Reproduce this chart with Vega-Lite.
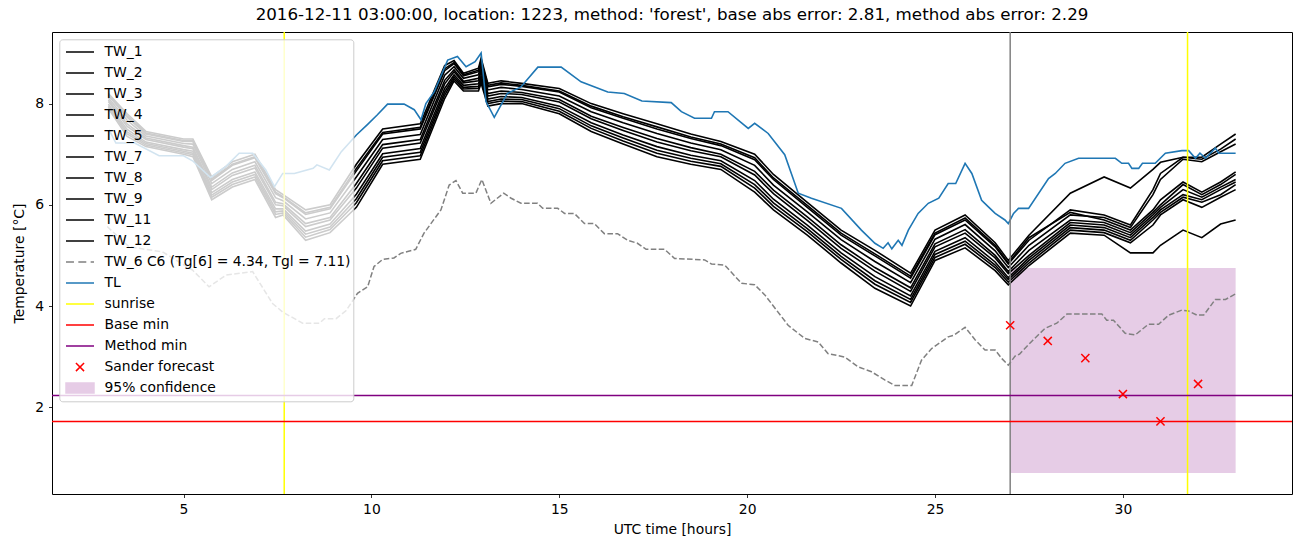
{
"$schema":"https://vega.github.io/schema/vega-lite/v6.json",
"width":1240,"height":462,
"autosize":{"type":"none"},
"padding":{"left":52,"top":32,"right":10,"bottom":53},
"background":"white",
"config":{
 "font":"DejaVu Sans",
 "view":{"stroke":"black","strokeWidth":1},
 "axis":{"domain":false,"grid":false,"tickColor":"black","tickSize":3.5,"tickWidth":0.8,"labelColor":"black","labelFontSize":13.9,"labelFont":"DejaVu Sans","titleFont":"DejaVu Sans","titleFontSize":13.9,"titleFontWeight":"normal","titleColor":"black","labelPadding":4.9}
},
"title":{"text":"2016-12-11 03:00:00, location: 1223, method: 'forest', base abs error: 2.81, method abs error: 2.29","fontSize":16.7,"fontWeight":"normal","color":"black","offset":8,"font":"DejaVu Sans"},
"datasets":{
"tw":[
{"s":"TW_1","t":3,"v":8.2},{"s":"TW_1","t":3.5,"v":7.8},{"s":"TW_1","t":4,"v":7.45},{"s":"TW_1","t":5,"v":7.3},{"s":"TW_1","t":5.25,"v":7.3},{"s":"TW_1","t":5.75,"v":6.55},{"s":"TW_1","t":6.3,"v":6.85},{"s":"TW_1","t":6.9,"v":7.0},{"s":"TW_1","t":7.45,"v":6.3},{"s":"TW_1","t":7.65,"v":6.2},{"s":"TW_1","t":8.25,"v":5.9},{"s":"TW_1","t":8.9,"v":6.0},{"s":"TW_1","t":9.6,"v":6.8},{"s":"TW_1","t":10.3,"v":7.5},{"s":"TW_1","t":11.3,"v":7.6},{"s":"TW_1","t":11.95,"v":8.75},{"s":"TW_1","t":12.2,"v":8.85},{"s":"TW_1","t":12.45,"v":8.6},{"s":"TW_1","t":12.85,"v":8.7},{"s":"TW_1","t":12.92,"v":8.9},{"s":"TW_1","t":13.1,"v":8.4},{"s":"TW_1","t":13.45,"v":8.45},{"s":"TW_1","t":14,"v":8.4},{"s":"TW_1","t":15,"v":8.3},{"s":"TW_1","t":15.85,"v":8.0},{"s":"TW_1","t":16.7,"v":7.8},{"s":"TW_1","t":17.6,"v":7.6},{"s":"TW_1","t":18.5,"v":7.4},{"s":"TW_1","t":19.3,"v":7.25},{"s":"TW_1","t":20.2,"v":7.0},{"s":"TW_1","t":20.7,"v":6.6},{"s":"TW_1","t":21.6,"v":6.05},{"s":"TW_1","t":22.5,"v":5.5},{"s":"TW_1","t":23.4,"v":5.1},{"s":"TW_1","t":24.35,"v":4.65},{"s":"TW_1","t":25,"v":5.5},{"s":"TW_1","t":25.8,"v":5.8},{"s":"TW_1","t":26.6,"v":5.25},{"s":"TW_1","t":26.95,"v":4.9},{"s":"TW_1","t":27.5,"v":5.4},{"s":"TW_1","t":28.6,"v":6.23},{"s":"TW_1","t":29.5,"v":6.55},{"s":"TW_1","t":30.2,"v":6.33},{"s":"TW_1","t":30.8,"v":6.7},{"s":"TW_1","t":31,"v":6.84},{"s":"TW_1","t":31.6,"v":6.94},{"s":"TW_1","t":32.1,"v":6.94},{"s":"TW_1","t":32.6,"v":7.2},{"s":"TW_1","t":33,"v":7.4},
{"s":"TW_4","t":3,"v":8.17},{"s":"TW_4","t":3.5,"v":7.76},{"s":"TW_4","t":4,"v":7.42},{"s":"TW_4","t":5,"v":7.27},{"s":"TW_4","t":5.25,"v":7.27},{"s":"TW_4","t":5.75,"v":6.51},{"s":"TW_4","t":6.3,"v":6.8},{"s":"TW_4","t":6.9,"v":6.95},{"s":"TW_4","t":7.45,"v":6.25},{"s":"TW_4","t":7.65,"v":6.16},{"s":"TW_4","t":8.25,"v":5.84},{"s":"TW_4","t":8.9,"v":5.95},{"s":"TW_4","t":9.6,"v":6.72},{"s":"TW_4","t":10.3,"v":7.43},{"s":"TW_4","t":11.3,"v":7.53},{"s":"TW_4","t":11.95,"v":8.69},{"s":"TW_4","t":12.2,"v":8.81},{"s":"TW_4","t":12.45,"v":8.57},{"s":"TW_4","t":12.85,"v":8.66},{"s":"TW_4","t":12.92,"v":8.85},{"s":"TW_4","t":13.1,"v":8.36},{"s":"TW_4","t":13.45,"v":8.41},{"s":"TW_4","t":14,"v":8.36},{"s":"TW_4","t":15,"v":8.25},{"s":"TW_4","t":15.85,"v":7.95},{"s":"TW_4","t":16.7,"v":7.74},{"s":"TW_4","t":17.6,"v":7.54},{"s":"TW_4","t":18.5,"v":7.34},{"s":"TW_4","t":19.3,"v":7.2},{"s":"TW_4","t":20.2,"v":6.93},{"s":"TW_4","t":20.7,"v":6.53},{"s":"TW_4","t":21.6,"v":5.99},{"s":"TW_4","t":22.5,"v":5.44},{"s":"TW_4","t":23.4,"v":5.03},{"s":"TW_4","t":24.35,"v":4.59},{"s":"TW_4","t":25,"v":5.44},{"s":"TW_4","t":25.8,"v":5.74},{"s":"TW_4","t":26.6,"v":5.2},{"s":"TW_4","t":26.95,"v":4.85},{"s":"TW_4","t":27.5,"v":5.35},{"s":"TW_4","t":28.6,"v":5.85},{"s":"TW_4","t":29.5,"v":5.7},{"s":"TW_4","t":30.2,"v":5.5},{"s":"TW_4","t":30.8,"v":5.9},{"s":"TW_4","t":31,"v":6.1},{"s":"TW_4","t":31.6,"v":6.45},{"s":"TW_4","t":32.1,"v":6.25},{"s":"TW_4","t":32.6,"v":6.45},{"s":"TW_4","t":33,"v":6.65},
{"s":"TW_2","t":3,"v":8.16},{"s":"TW_2","t":3.5,"v":7.73},{"s":"TW_2","t":4,"v":7.4},{"s":"TW_2","t":5,"v":7.25},{"s":"TW_2","t":5.25,"v":7.25},{"s":"TW_2","t":5.75,"v":6.48},{"s":"TW_2","t":6.3,"v":6.78},{"s":"TW_2","t":6.9,"v":6.93},{"s":"TW_2","t":7.45,"v":6.22},{"s":"TW_2","t":7.65,"v":6.14},{"s":"TW_2","t":8.25,"v":5.81},{"s":"TW_2","t":8.9,"v":5.92},{"s":"TW_2","t":9.6,"v":6.67},{"s":"TW_2","t":10.3,"v":7.4},{"s":"TW_2","t":11.3,"v":7.5},{"s":"TW_2","t":11.95,"v":8.65},{"s":"TW_2","t":12.2,"v":8.79},{"s":"TW_2","t":12.45,"v":8.55},{"s":"TW_2","t":12.85,"v":8.63},{"s":"TW_2","t":12.92,"v":8.83},{"s":"TW_2","t":13.1,"v":8.33},{"s":"TW_2","t":13.45,"v":8.38},{"s":"TW_2","t":14,"v":8.34},{"s":"TW_2","t":15,"v":8.23},{"s":"TW_2","t":15.85,"v":7.92},{"s":"TW_2","t":16.7,"v":7.71},{"s":"TW_2","t":17.6,"v":7.5},{"s":"TW_2","t":18.5,"v":7.31},{"s":"TW_2","t":19.3,"v":7.17},{"s":"TW_2","t":20.2,"v":6.89},{"s":"TW_2","t":20.7,"v":6.5},{"s":"TW_2","t":21.6,"v":5.95},{"s":"TW_2","t":22.5,"v":5.4},{"s":"TW_2","t":23.4,"v":4.99},{"s":"TW_2","t":24.35,"v":4.55},{"s":"TW_2","t":25,"v":5.41},{"s":"TW_2","t":25.8,"v":5.7},{"s":"TW_2","t":26.6,"v":5.17},{"s":"TW_2","t":26.95,"v":4.83},{"s":"TW_2","t":27.5,"v":5.3},{"s":"TW_2","t":28.6,"v":5.9},{"s":"TW_2","t":29.5,"v":5.8},{"s":"TW_2","t":30.2,"v":5.6},{"s":"TW_2","t":30.8,"v":6.3},{"s":"TW_2","t":31,"v":6.62},{"s":"TW_2","t":31.6,"v":6.94},{"s":"TW_2","t":32.1,"v":6.9},{"s":"TW_2","t":32.6,"v":7.1},{"s":"TW_2","t":33,"v":7.3},
{"s":"TW_3","t":3,"v":8.11},{"s":"TW_3","t":3.5,"v":7.67},{"s":"TW_3","t":4,"v":7.36},{"s":"TW_3","t":5,"v":7.21},{"s":"TW_3","t":5.25,"v":7.2},{"s":"TW_3","t":5.75,"v":6.42},{"s":"TW_3","t":6.3,"v":6.7},{"s":"TW_3","t":6.9,"v":6.85},{"s":"TW_3","t":7.45,"v":6.14},{"s":"TW_3","t":7.65,"v":6.08},{"s":"TW_3","t":8.25,"v":5.72},{"s":"TW_3","t":8.9,"v":5.84},{"s":"TW_3","t":9.6,"v":6.55},{"s":"TW_3","t":10.3,"v":7.29},{"s":"TW_3","t":11.3,"v":7.39},{"s":"TW_3","t":11.95,"v":8.56},{"s":"TW_3","t":12.2,"v":8.73},{"s":"TW_3","t":12.45,"v":8.5},{"s":"TW_3","t":12.85,"v":8.57},{"s":"TW_3","t":12.92,"v":8.75},{"s":"TW_3","t":13.1,"v":8.27},{"s":"TW_3","t":13.45,"v":8.32},{"s":"TW_3","t":14,"v":8.28},{"s":"TW_3","t":15,"v":8.15},{"s":"TW_3","t":15.85,"v":7.84},{"s":"TW_3","t":16.7,"v":7.62},{"s":"TW_3","t":17.6,"v":7.41},{"s":"TW_3","t":18.5,"v":7.22},{"s":"TW_3","t":19.3,"v":7.09},{"s":"TW_3","t":20.2,"v":6.78},{"s":"TW_3","t":20.7,"v":6.39},{"s":"TW_3","t":21.6,"v":5.86},{"s":"TW_3","t":22.5,"v":5.31},{"s":"TW_3","t":23.4,"v":4.88},{"s":"TW_3","t":24.35,"v":4.46},{"s":"TW_3","t":25,"v":5.32},{"s":"TW_3","t":25.8,"v":5.61},{"s":"TW_3","t":26.6,"v":5.09},{"s":"TW_3","t":26.95,"v":4.76},{"s":"TW_3","t":27.5,"v":5.2},{"s":"TW_3","t":28.6,"v":5.8},{"s":"TW_3","t":29.5,"v":5.75},{"s":"TW_3","t":30.2,"v":5.55},{"s":"TW_3","t":30.8,"v":6.2},{"s":"TW_3","t":31,"v":6.5},{"s":"TW_3","t":31.6,"v":6.9},{"s":"TW_3","t":32.1,"v":6.85},{"s":"TW_3","t":32.6,"v":7.05},{"s":"TW_3","t":33,"v":7.2},
{"s":"TW_5","t":3,"v":8.07},{"s":"TW_5","t":3.5,"v":7.6},{"s":"TW_5","t":4,"v":7.32},{"s":"TW_5","t":5,"v":7.17},{"s":"TW_5","t":5.25,"v":7.14},{"s":"TW_5","t":5.75,"v":6.35},{"s":"TW_5","t":6.3,"v":6.63},{"s":"TW_5","t":6.9,"v":6.78},{"s":"TW_5","t":7.45,"v":6.05},{"s":"TW_5","t":7.65,"v":6.02},{"s":"TW_5","t":8.25,"v":5.63},{"s":"TW_5","t":8.9,"v":5.75},{"s":"TW_5","t":9.6,"v":6.42},{"s":"TW_5","t":10.3,"v":7.19},{"s":"TW_5","t":11.3,"v":7.29},{"s":"TW_5","t":11.95,"v":8.46},{"s":"TW_5","t":12.2,"v":8.67},{"s":"TW_5","t":12.45,"v":8.44},{"s":"TW_5","t":12.85,"v":8.5},{"s":"TW_5","t":12.92,"v":8.68},{"s":"TW_5","t":13.1,"v":8.2},{"s":"TW_5","t":13.45,"v":8.25},{"s":"TW_5","t":14,"v":8.22},{"s":"TW_5","t":15,"v":8.08},{"s":"TW_5","t":15.85,"v":7.75},{"s":"TW_5","t":16.7,"v":7.53},{"s":"TW_5","t":17.6,"v":7.31},{"s":"TW_5","t":18.5,"v":7.13},{"s":"TW_5","t":19.3,"v":7.0},{"s":"TW_5","t":20.2,"v":6.66},{"s":"TW_5","t":20.7,"v":6.29},{"s":"TW_5","t":21.6,"v":5.76},{"s":"TW_5","t":22.5,"v":5.21},{"s":"TW_5","t":23.4,"v":4.76},{"s":"TW_5","t":24.35,"v":4.36},{"s":"TW_5","t":25,"v":5.23},{"s":"TW_5","t":25.8,"v":5.51},{"s":"TW_5","t":26.6,"v":5.0},{"s":"TW_5","t":26.95,"v":4.68},{"s":"TW_5","t":27.5,"v":5.1},{"s":"TW_5","t":28.6,"v":5.7},{"s":"TW_5","t":29.5,"v":5.65},{"s":"TW_5","t":30.2,"v":5.45},{"s":"TW_5","t":30.8,"v":5.85},{"s":"TW_5","t":31,"v":6.0},{"s":"TW_5","t":31.6,"v":6.4},{"s":"TW_5","t":32.1,"v":6.2},{"s":"TW_5","t":32.6,"v":6.4},{"s":"TW_5","t":33,"v":6.6},
{"s":"TW_7","t":3,"v":8.04},{"s":"TW_7","t":3.5,"v":7.55},{"s":"TW_7","t":4,"v":7.29},{"s":"TW_7","t":5,"v":7.14},{"s":"TW_7","t":5.25,"v":7.11},{"s":"TW_7","t":5.75,"v":6.3},{"s":"TW_7","t":6.3,"v":6.58},{"s":"TW_7","t":6.9,"v":6.73},{"s":"TW_7","t":7.45,"v":6.0},{"s":"TW_7","t":7.65,"v":5.98},{"s":"TW_7","t":8.25,"v":5.57},{"s":"TW_7","t":8.9,"v":5.7},{"s":"TW_7","t":9.6,"v":6.33},{"s":"TW_7","t":10.3,"v":7.12},{"s":"TW_7","t":11.3,"v":7.22},{"s":"TW_7","t":11.95,"v":8.39},{"s":"TW_7","t":12.2,"v":8.63},{"s":"TW_7","t":12.45,"v":8.41},{"s":"TW_7","t":12.85,"v":8.45},{"s":"TW_7","t":12.92,"v":8.63},{"s":"TW_7","t":13.1,"v":8.15},{"s":"TW_7","t":13.45,"v":8.2},{"s":"TW_7","t":14,"v":8.18},{"s":"TW_7","t":15,"v":8.03},{"s":"TW_7","t":15.85,"v":7.7},{"s":"TW_7","t":16.7,"v":7.47},{"s":"TW_7","t":17.6,"v":7.24},{"s":"TW_7","t":18.5,"v":7.07},{"s":"TW_7","t":19.3,"v":6.95},{"s":"TW_7","t":20.2,"v":6.59},{"s":"TW_7","t":20.7,"v":6.22},{"s":"TW_7","t":21.6,"v":5.69},{"s":"TW_7","t":22.5,"v":5.14},{"s":"TW_7","t":23.4,"v":4.69},{"s":"TW_7","t":24.35,"v":4.29},{"s":"TW_7","t":25,"v":5.17},{"s":"TW_7","t":25.8,"v":5.44},{"s":"TW_7","t":26.6,"v":4.95},{"s":"TW_7","t":26.95,"v":4.64},{"s":"TW_7","t":27.5,"v":5.0},{"s":"TW_7","t":28.6,"v":5.65},{"s":"TW_7","t":29.5,"v":5.6},{"s":"TW_7","t":30.2,"v":5.4},{"s":"TW_7","t":30.8,"v":5.8},{"s":"TW_7","t":31,"v":5.95},{"s":"TW_7","t":31.6,"v":6.3},{"s":"TW_7","t":32.1,"v":6.15},{"s":"TW_7","t":32.6,"v":6.35},{"s":"TW_7","t":33,"v":6.5},
{"s":"TW_8","t":3,"v":7.99},{"s":"TW_8","t":3.5,"v":7.49},{"s":"TW_8","t":4,"v":7.24},{"s":"TW_8","t":5,"v":7.09},{"s":"TW_8","t":5.25,"v":7.06},{"s":"TW_8","t":5.75,"v":6.24},{"s":"TW_8","t":6.3,"v":6.5},{"s":"TW_8","t":6.9,"v":6.65},{"s":"TW_8","t":7.45,"v":5.92},{"s":"TW_8","t":7.65,"v":5.92},{"s":"TW_8","t":8.25,"v":5.48},{"s":"TW_8","t":8.9,"v":5.62},{"s":"TW_8","t":9.6,"v":6.21},{"s":"TW_8","t":10.3,"v":7.01},{"s":"TW_8","t":11.3,"v":7.11},{"s":"TW_8","t":11.95,"v":8.3},{"s":"TW_8","t":12.2,"v":8.57},{"s":"TW_8","t":12.45,"v":8.36},{"s":"TW_8","t":12.85,"v":8.39},{"s":"TW_8","t":12.92,"v":8.55},{"s":"TW_8","t":13.1,"v":8.09},{"s":"TW_8","t":13.45,"v":8.14},{"s":"TW_8","t":14,"v":8.12},{"s":"TW_8","t":15,"v":7.95},{"s":"TW_8","t":15.85,"v":7.62},{"s":"TW_8","t":16.7,"v":7.38},{"s":"TW_8","t":17.6,"v":7.15},{"s":"TW_8","t":18.5,"v":6.98},{"s":"TW_8","t":19.3,"v":6.87},{"s":"TW_8","t":20.2,"v":6.48},{"s":"TW_8","t":20.7,"v":6.11},{"s":"TW_8","t":21.6,"v":5.6},{"s":"TW_8","t":22.5,"v":5.05},{"s":"TW_8","t":23.4,"v":4.58},{"s":"TW_8","t":24.35,"v":4.2},{"s":"TW_8","t":25,"v":5.08},{"s":"TW_8","t":25.8,"v":5.35},{"s":"TW_8","t":26.6,"v":4.87},{"s":"TW_8","t":26.95,"v":4.56},{"s":"TW_8","t":27.5,"v":4.95},{"s":"TW_8","t":28.6,"v":5.6},{"s":"TW_8","t":29.5,"v":5.55},{"s":"TW_8","t":30.2,"v":5.35},{"s":"TW_8","t":30.8,"v":5.75},{"s":"TW_8","t":31,"v":5.9},{"s":"TW_8","t":31.6,"v":6.2},{"s":"TW_8","t":32.1,"v":6.1},{"s":"TW_8","t":32.6,"v":6.3},{"s":"TW_8","t":33,"v":6.45},
{"s":"TW_9","t":3,"v":7.96},{"s":"TW_9","t":3.5,"v":7.44},{"s":"TW_9","t":4,"v":7.21},{"s":"TW_9","t":5,"v":7.06},{"s":"TW_9","t":5.25,"v":7.02},{"s":"TW_9","t":5.75,"v":6.19},{"s":"TW_9","t":6.3,"v":6.45},{"s":"TW_9","t":6.9,"v":6.6},{"s":"TW_9","t":7.45,"v":5.86},{"s":"TW_9","t":7.65,"v":5.88},{"s":"TW_9","t":8.25,"v":5.42},{"s":"TW_9","t":8.9,"v":5.56},{"s":"TW_9","t":9.6,"v":6.12},{"s":"TW_9","t":10.3,"v":6.94},{"s":"TW_9","t":11.3,"v":7.04},{"s":"TW_9","t":11.95,"v":8.23},{"s":"TW_9","t":12.2,"v":8.53},{"s":"TW_9","t":12.45,"v":8.32},{"s":"TW_9","t":12.85,"v":8.34},{"s":"TW_9","t":12.92,"v":8.5},{"s":"TW_9","t":13.1,"v":8.04},{"s":"TW_9","t":13.45,"v":8.09},{"s":"TW_9","t":14,"v":8.08},{"s":"TW_9","t":15,"v":7.9},{"s":"TW_9","t":15.85,"v":7.56},{"s":"TW_9","t":16.7,"v":7.32},{"s":"TW_9","t":17.6,"v":7.08},{"s":"TW_9","t":18.5,"v":6.92},{"s":"TW_9","t":19.3,"v":6.81},{"s":"TW_9","t":20.2,"v":6.4},{"s":"TW_9","t":20.7,"v":6.04},{"s":"TW_9","t":21.6,"v":5.53},{"s":"TW_9","t":22.5,"v":4.98},{"s":"TW_9","t":23.4,"v":4.5},{"s":"TW_9","t":24.35,"v":4.13},{"s":"TW_9","t":25,"v":5.02},{"s":"TW_9","t":25.8,"v":5.28},{"s":"TW_9","t":26.6,"v":4.81},{"s":"TW_9","t":26.95,"v":4.52},{"s":"TW_9","t":27.5,"v":4.9},{"s":"TW_9","t":28.6,"v":5.55},{"s":"TW_9","t":29.5,"v":5.5},{"s":"TW_9","t":30.2,"v":5.3},{"s":"TW_9","t":30.8,"v":5.7},{"s":"TW_9","t":31,"v":5.85},{"s":"TW_9","t":31.6,"v":6.15},{"s":"TW_9","t":32.1,"v":6.05},{"s":"TW_9","t":32.6,"v":6.2},{"s":"TW_9","t":33,"v":6.4},
{"s":"TW_11","t":3,"v":7.93},{"s":"TW_11","t":3.5,"v":7.4},{"s":"TW_11","t":4,"v":7.18},{"s":"TW_11","t":5,"v":7.03},{"s":"TW_11","t":5.25,"v":6.99},{"s":"TW_11","t":5.75,"v":6.15},{"s":"TW_11","t":6.3,"v":6.4},{"s":"TW_11","t":6.9,"v":6.55},{"s":"TW_11","t":7.45,"v":5.81},{"s":"TW_11","t":7.65,"v":5.84},{"s":"TW_11","t":8.25,"v":5.36},{"s":"TW_11","t":8.9,"v":5.51},{"s":"TW_11","t":9.6,"v":6.04},{"s":"TW_11","t":10.3,"v":6.87},{"s":"TW_11","t":11.3,"v":6.97},{"s":"TW_11","t":11.95,"v":8.17},{"s":"TW_11","t":12.2,"v":8.49},{"s":"TW_11","t":12.45,"v":8.29},{"s":"TW_11","t":12.85,"v":8.3},{"s":"TW_11","t":12.92,"v":8.45},{"s":"TW_11","t":13.1,"v":8.0},{"s":"TW_11","t":13.45,"v":8.05},{"s":"TW_11","t":14,"v":8.04},{"s":"TW_11","t":15,"v":7.85},{"s":"TW_11","t":15.85,"v":7.51},{"s":"TW_11","t":16.7,"v":7.26},{"s":"TW_11","t":17.6,"v":7.02},{"s":"TW_11","t":18.5,"v":6.86},{"s":"TW_11","t":19.3,"v":6.76},{"s":"TW_11","t":20.2,"v":6.33},{"s":"TW_11","t":20.7,"v":5.97},{"s":"TW_11","t":21.6,"v":5.47},{"s":"TW_11","t":22.5,"v":4.92},{"s":"TW_11","t":23.4,"v":4.43},{"s":"TW_11","t":24.35,"v":4.07},{"s":"TW_11","t":25,"v":4.96},{"s":"TW_11","t":25.8,"v":5.22},{"s":"TW_11","t":26.6,"v":4.76},{"s":"TW_11","t":26.95,"v":4.47},{"s":"TW_11","t":27.5,"v":4.85},{"s":"TW_11","t":28.6,"v":5.5},{"s":"TW_11","t":29.5,"v":5.45},{"s":"TW_11","t":30.2,"v":5.25},{"s":"TW_11","t":30.8,"v":5.6},{"s":"TW_11","t":31,"v":5.8},{"s":"TW_11","t":31.6,"v":6.1},{"s":"TW_11","t":32.1,"v":5.95},{"s":"TW_11","t":32.6,"v":6.15},{"s":"TW_11","t":33,"v":6.3},
{"s":"TW_12","t":3,"v":7.9},{"s":"TW_12","t":3.5,"v":7.35},{"s":"TW_12","t":4,"v":7.15},{"s":"TW_12","t":5,"v":7.0},{"s":"TW_12","t":5.25,"v":6.95},{"s":"TW_12","t":5.75,"v":6.1},{"s":"TW_12","t":6.3,"v":6.35},{"s":"TW_12","t":6.9,"v":6.5},{"s":"TW_12","t":7.45,"v":5.75},{"s":"TW_12","t":7.65,"v":5.8},{"s":"TW_12","t":8.25,"v":5.3},{"s":"TW_12","t":8.9,"v":5.45},{"s":"TW_12","t":9.6,"v":5.95},{"s":"TW_12","t":10.3,"v":6.8},{"s":"TW_12","t":11.3,"v":6.9},{"s":"TW_12","t":11.95,"v":8.1},{"s":"TW_12","t":12.2,"v":8.45},{"s":"TW_12","t":12.45,"v":8.25},{"s":"TW_12","t":12.85,"v":8.25},{"s":"TW_12","t":12.92,"v":8.4},{"s":"TW_12","t":13.1,"v":7.95},{"s":"TW_12","t":13.45,"v":8.0},{"s":"TW_12","t":14,"v":8.0},{"s":"TW_12","t":15,"v":7.8},{"s":"TW_12","t":15.85,"v":7.45},{"s":"TW_12","t":16.7,"v":7.2},{"s":"TW_12","t":17.6,"v":6.95},{"s":"TW_12","t":18.5,"v":6.8},{"s":"TW_12","t":19.3,"v":6.7},{"s":"TW_12","t":20.2,"v":6.25},{"s":"TW_12","t":20.7,"v":5.9},{"s":"TW_12","t":21.6,"v":5.4},{"s":"TW_12","t":22.5,"v":4.85},{"s":"TW_12","t":23.4,"v":4.35},{"s":"TW_12","t":24.35,"v":4.0},{"s":"TW_12","t":25,"v":4.9},{"s":"TW_12","t":25.8,"v":5.15},{"s":"TW_12","t":26.6,"v":4.7},{"s":"TW_12","t":26.95,"v":4.42},{"s":"TW_12","t":27.5,"v":4.8},{"s":"TW_12","t":28.6,"v":5.44},{"s":"TW_12","t":29.5,"v":5.4},{"s":"TW_12","t":30.2,"v":5.05},{"s":"TW_12","t":30.8,"v":5.05},{"s":"TW_12","t":31,"v":5.2},{"s":"TW_12","t":31.6,"v":5.5},{"s":"TW_12","t":32.1,"v":5.35},{"s":"TW_12","t":32.6,"v":5.62},{"s":"TW_12","t":33,"v":5.7}
],
"tl":[
{"s":"TL","t":3.02,"v":7.48},{"s":"TL","t":3.2,"v":7.22},{"s":"TL","t":3.7,"v":7.22},{"s":"TL","t":4.35,"v":6.97},{"s":"TL","t":5.0,"v":6.97},{"s":"TL","t":5.24,"v":6.87},{"s":"TL","t":5.72,"v":6.54},{"s":"TL","t":6.13,"v":6.76},{"s":"TL","t":6.48,"v":7.02},{"s":"TL","t":6.84,"v":7.02},{"s":"TL","t":7.19,"v":6.69},{"s":"TL","t":7.42,"v":6.36},{"s":"TL","t":7.64,"v":6.62},{"s":"TL","t":7.95,"v":6.62},{"s":"TL","t":8.45,"v":6.72},{"s":"TL","t":8.55,"v":6.79},{"s":"TL","t":8.88,"v":6.69},{"s":"TL","t":9.2,"v":7.05},{"s":"TL","t":9.6,"v":7.38},{"s":"TL","t":9.9,"v":7.59},{"s":"TL","t":10.16,"v":7.78},{"s":"TL","t":10.43,"v":7.99},{"s":"TL","t":10.87,"v":7.99},{"s":"TL","t":11.14,"v":7.88},{"s":"TL","t":11.32,"v":7.68},{"s":"TL","t":11.45,"v":8.0},{"s":"TL","t":11.67,"v":8.23},{"s":"TL","t":12.03,"v":8.86},{"s":"TL","t":12.29,"v":8.93},{"s":"TL","t":12.52,"v":8.73},{"s":"TL","t":12.76,"v":8.83},{"s":"TL","t":12.92,"v":9.0},{"s":"TL","t":13.05,"v":8.04},{"s":"TL","t":13.27,"v":7.73},{"s":"TL","t":13.62,"v":8.2},{"s":"TL","t":13.98,"v":8.33},{"s":"TL","t":14.43,"v":8.72},{"s":"TL","t":15.05,"v":8.72},{"s":"TL","t":15.58,"v":8.43},{"s":"TL","t":16.29,"v":8.23},{"s":"TL","t":16.73,"v":8.2},{"s":"TL","t":17.2,"v":8.05},{"s":"TL","t":17.98,"v":8.02},{"s":"TL","t":18.25,"v":7.84},{"s":"TL","t":18.6,"v":7.71},{"s":"TL","t":19.05,"v":7.71},{"s":"TL","t":19.13,"v":7.84},{"s":"TL","t":19.49,"v":7.84},{"s":"TL","t":19.85,"v":7.62},{"s":"TL","t":20.03,"v":7.51},{"s":"TL","t":20.2,"v":7.61},{"s":"TL","t":20.56,"v":7.41},{"s":"TL","t":21.0,"v":6.99},{"s":"TL","t":21.36,"v":6.23},{"s":"TL","t":21.71,"v":6.13},{"s":"TL","t":22.51,"v":5.93},{"s":"TL","t":23.04,"v":5.5},{"s":"TL","t":23.4,"v":5.24},{"s":"TL","t":23.62,"v":5.14},{"s":"TL","t":23.75,"v":5.25},{"s":"TL","t":23.85,"v":5.13},{"s":"TL","t":24.02,"v":5.3},{"s":"TL","t":24.12,"v":5.2},{"s":"TL","t":24.29,"v":5.5},{"s":"TL","t":24.55,"v":5.83},{"s":"TL","t":24.82,"v":6.03},{"s":"TL","t":25.1,"v":6.13},{"s":"TL","t":25.35,"v":6.42},{"s":"TL","t":25.55,"v":6.42},{"s":"TL","t":25.8,"v":6.82},{"s":"TL","t":25.98,"v":6.62},{"s":"TL","t":26.24,"v":6.09},{"s":"TL","t":26.42,"v":5.96},{"s":"TL","t":26.6,"v":5.83},{"s":"TL","t":26.86,"v":5.7},{"s":"TL","t":26.95,"v":5.63},{"s":"TL","t":27.09,"v":5.83},{"s":"TL","t":27.22,"v":5.93},{"s":"TL","t":27.49,"v":5.93},{"s":"TL","t":28.02,"v":6.52},{"s":"TL","t":28.2,"v":6.62},{"s":"TL","t":28.46,"v":6.82},{"s":"TL","t":28.82,"v":6.92},{"s":"TL","t":29.8,"v":6.92},{"s":"TL","t":29.97,"v":6.82},{"s":"TL","t":30.15,"v":6.82},{"s":"TL","t":30.24,"v":6.72},{"s":"TL","t":30.42,"v":6.72},{"s":"TL","t":30.52,"v":6.82},{"s":"TL","t":30.86,"v":6.82},{"s":"TL","t":31.13,"v":7.02},{"s":"TL","t":31.57,"v":7.07},{"s":"TL","t":31.75,"v":7.07},{"s":"TL","t":31.93,"v":6.92},{"s":"TL","t":32.05,"v":7.02},{"s":"TL","t":32.2,"v":6.92},{"s":"TL","t":32.46,"v":7.12},{"s":"TL","t":32.55,"v":7.02},{"s":"TL","t":33.0,"v":7.02}
],
"c6":[
{"s":"TW_6","t":2.97,"v":5.57},{"s":"TW_6","t":3.55,"v":5.17},{"s":"TW_6","t":4.44,"v":5.07},{"s":"TW_6","t":5.24,"v":4.71},{"s":"TW_6","t":5.68,"v":4.38},{"s":"TW_6","t":6.13,"v":4.61},{"s":"TW_6","t":6.84,"v":4.68},{"s":"TW_6","t":7.37,"v":4.05},{"s":"TW_6","t":7.64,"v":3.88},{"s":"TW_6","t":8.17,"v":3.66},{"s":"TW_6","t":8.62,"v":3.66},{"s":"TW_6","t":8.75,"v":3.75},{"s":"TW_6","t":9.06,"v":3.75},{"s":"TW_6","t":9.33,"v":3.91},{"s":"TW_6","t":9.63,"v":4.25},{"s":"TW_6","t":9.9,"v":4.38},{"s":"TW_6","t":10.07,"v":4.78},{"s":"TW_6","t":10.3,"v":4.92},{"s":"TW_6","t":10.6,"v":4.95},{"s":"TW_6","t":10.78,"v":5.04},{"s":"TW_6","t":11.18,"v":5.12},{"s":"TW_6","t":11.4,"v":5.44},{"s":"TW_6","t":11.85,"v":5.9},{"s":"TW_6","t":12.07,"v":6.39},{"s":"TW_6","t":12.25,"v":6.48},{"s":"TW_6","t":12.43,"v":6.23},{"s":"TW_6","t":12.78,"v":6.23},{"s":"TW_6","t":12.94,"v":6.5},{"s":"TW_6","t":13.18,"v":6.03},{"s":"TW_6","t":13.52,"v":6.23},{"s":"TW_6","t":13.72,"v":6.13},{"s":"TW_6","t":13.98,"v":6.03},{"s":"TW_6","t":14.42,"v":6.03},{"s":"TW_6","t":14.56,"v":5.93},{"s":"TW_6","t":14.96,"v":5.93},{"s":"TW_6","t":15.14,"v":5.83},{"s":"TW_6","t":15.4,"v":5.83},{"s":"TW_6","t":15.67,"v":5.63},{"s":"TW_6","t":15.93,"v":5.63},{"s":"TW_6","t":16.2,"v":5.43},{"s":"TW_6","t":16.55,"v":5.43},{"s":"TW_6","t":16.82,"v":5.3},{"s":"TW_6","t":17.08,"v":5.24},{"s":"TW_6","t":17.31,"v":5.12},{"s":"TW_6","t":17.8,"v":5.12},{"s":"TW_6","t":18.07,"v":4.94},{"s":"TW_6","t":18.87,"v":4.91},{"s":"TW_6","t":19.05,"v":4.83},{"s":"TW_6","t":19.4,"v":4.81},{"s":"TW_6","t":19.85,"v":4.45},{"s":"TW_6","t":20.2,"v":4.42},{"s":"TW_6","t":20.47,"v":4.22},{"s":"TW_6","t":21.09,"v":3.62},{"s":"TW_6","t":21.53,"v":3.36},{"s":"TW_6","t":21.89,"v":3.29},{"s":"TW_6","t":22.15,"v":3.06},{"s":"TW_6","t":22.6,"v":2.99},{"s":"TW_6","t":22.95,"v":2.8},{"s":"TW_6","t":23.31,"v":2.7},{"s":"TW_6","t":23.66,"v":2.54},{"s":"TW_6","t":23.93,"v":2.43},{"s":"TW_6","t":24.38,"v":2.43},{"s":"TW_6","t":24.64,"v":2.93},{"s":"TW_6","t":24.91,"v":3.16},{"s":"TW_6","t":25.35,"v":3.39},{"s":"TW_6","t":25.5,"v":3.42},{"s":"TW_6","t":25.8,"v":3.58},{"s":"TW_6","t":26.07,"v":3.33},{"s":"TW_6","t":26.33,"v":3.13},{"s":"TW_6","t":26.6,"v":3.13},{"s":"TW_6","t":26.78,"v":2.96},{"s":"TW_6","t":26.95,"v":2.83},{"s":"TW_6","t":27.13,"v":3.01},{"s":"TW_6","t":27.25,"v":3.05},{"s":"TW_6","t":27.57,"v":3.3},{"s":"TW_6","t":27.93,"v":3.56},{"s":"TW_6","t":28.24,"v":3.66},{"s":"TW_6","t":28.51,"v":3.84},{"s":"TW_6","t":29.44,"v":3.84},{"s":"TW_6","t":29.57,"v":3.72},{"s":"TW_6","t":29.75,"v":3.72},{"s":"TW_6","t":30.06,"v":3.46},{"s":"TW_6","t":30.33,"v":3.43},{"s":"TW_6","t":30.68,"v":3.64},{"s":"TW_6","t":30.95,"v":3.64},{"s":"TW_6","t":31.22,"v":3.82},{"s":"TW_6","t":31.57,"v":3.92},{"s":"TW_6","t":31.75,"v":3.9},{"s":"TW_6","t":31.97,"v":3.82},{"s":"TW_6","t":32.15,"v":3.82},{"s":"TW_6","t":32.46,"v":4.13},{"s":"TW_6","t":32.73,"v":4.13},{"s":"TW_6","t":33.0,"v":4.24}
]
},
"layer":[
{"data":{"values":[{"s":"95% confidence","t":27,"t2":33,"v":0.7,"v2":4.75}]},
 "mark":{"type":"rect"},
 "encoding":{
  "x":{"field":"t","type":"quantitative","scale":{"domain":[1.5,34.5],"nice":false,"zero":false},"axis":{"values":[5,10,15,20,25,30],"title":"UTC time [hours]","titlePadding":6}},
  "x2":{"field":"t2"},
  "y":{"field":"v","type":"quantitative","scale":{"domain":[0.285,9.415],"nice":false,"zero":false},"axis":{"values":[2,4,6,8],"title":"Temperature [°C]","titlePadding":8}},
  "y2":{"field":"v2"},
  "color":{"field":"s","type":"nominal"}
 }},
{"data":{"name":"tw"},"mark":{"type":"line","strokeWidth":1.6},
 "encoding":{"x":{"field":"t","type":"quantitative"},"y":{"field":"v","type":"quantitative"},"color":{"field":"s","type":"nominal"}}},
{"data":{"name":"c6"},"mark":{"type":"line","strokeWidth":1.5,"strokeDash":[5.55,2.4]},
 "encoding":{"x":{"field":"t","type":"quantitative"},"y":{"field":"v","type":"quantitative"},"color":{"field":"s","type":"nominal"}}},
{"data":{"name":"tl"},"mark":{"type":"line","strokeWidth":1.6},
 "encoding":{"x":{"field":"t","type":"quantitative"},"y":{"field":"v","type":"quantitative"},"color":{"field":"s","type":"nominal"}}},
{"data":{"values":[{"s":"sunrise","t":7.68},{"s":"sunrise","t":31.72}]},"mark":{"type":"rule","strokeWidth":1.5},
 "encoding":{"x":{"field":"t","type":"quantitative"},"color":{"field":"s","type":"nominal"}}},
{"data":{"values":[{"t":27}]},"mark":{"type":"rule","color":"gray","strokeWidth":1.5},
 "encoding":{"x":{"field":"t","type":"quantitative"}}},
{"data":{"values":[{"s":"Base min","v":1.72},{"s":"Method min","v":2.23}]},"mark":{"type":"rule","strokeWidth":1.5},
 "encoding":{"y":{"field":"v","type":"quantitative"},"color":{"field":"s","type":"nominal"}}},
{"data":{"values":[{"s":"Sander forecast","t":27,"v":3.62},{"s":"Sander forecast","t":28,"v":3.31},{"s":"Sander forecast","t":29,"v":2.97},{"s":"Sander forecast","t":30,"v":2.26},{"s":"Sander forecast","t":31,"v":1.72},{"s":"Sander forecast","t":32,"v":2.46}]},
 "mark":{"type":"point","filled":false,"size":784,"strokeWidth":1.5,"opacity":1},
 "encoding":{"x":{"field":"t","type":"quantitative"},"y":{"field":"v","type":"quantitative"},
  "color":{"field":"s","type":"nominal",
   "scale":{"domain":["TW_1","TW_2","TW_3","TW_4","TW_5","TW_7","TW_8","TW_9","TW_11","TW_12","TW_6","TL","sunrise","Base min","Method min","Sander forecast","95% confidence"],
            "range":["black","black","black","black","black","black","black","black","black","black","gray","#1f77b4","yellow","red","purple","red","#e6cce6"]},
   "legend":{"title":null,"orient":"none","legendX":7.3,"legendY":7.3,"padding":2.3,"fillColor":"rgba(255,255,255,0.8)","strokeColor":"#cccccc","cornerRadius":3,
     "symbolSize":784,"symbolStrokeWidth":1.5,"symbolOffset":3.4,"labelOffset":9.5,"labelFontSize":13.9,"labelFont":"DejaVu Sans","labelColor":"black","labelLimit":500,"clipHeight":20.94,"rowPadding":0,"symbolLimit":40,
     "labelExpr":"datum.value === 'TW_6' ? 'TW_6 C6 (Tg[6] = 4.34, Tgl = 7.11)' : datum.label"}},
  "shape":{"field":"s","type":"nominal",
   "scale":{"domain":["TW_1","TW_2","TW_3","TW_4","TW_5","TW_7","TW_8","TW_9","TW_11","TW_12","TW_6","TL","sunrise","Base min","Method min","Sander forecast","95% confidence"],
            "range":["M-1,0L1,0","M-1,0L1,0","M-1,0L1,0","M-1,0L1,0","M-1,0L1,0","M-1,0L1,0","M-1,0L1,0","M-1,0L1,0","M-1,0L1,0","M-1,0L1,0","M-1,0L-0.43,0M-0.12,0L0.45,0M0.76,0L1,0","M-1,0L1,0","M-1,0L1,0","M-1,0L1,0","M-1,0L1,0","M-0.29,-0.29L0.29,0.29M-0.29,0.29L0.29,-0.29","M-1,-0.36L1,-0.36L1,0.36L-1,0.36Z"]},
   "legend":{"title":null}}
 }}
]
}
